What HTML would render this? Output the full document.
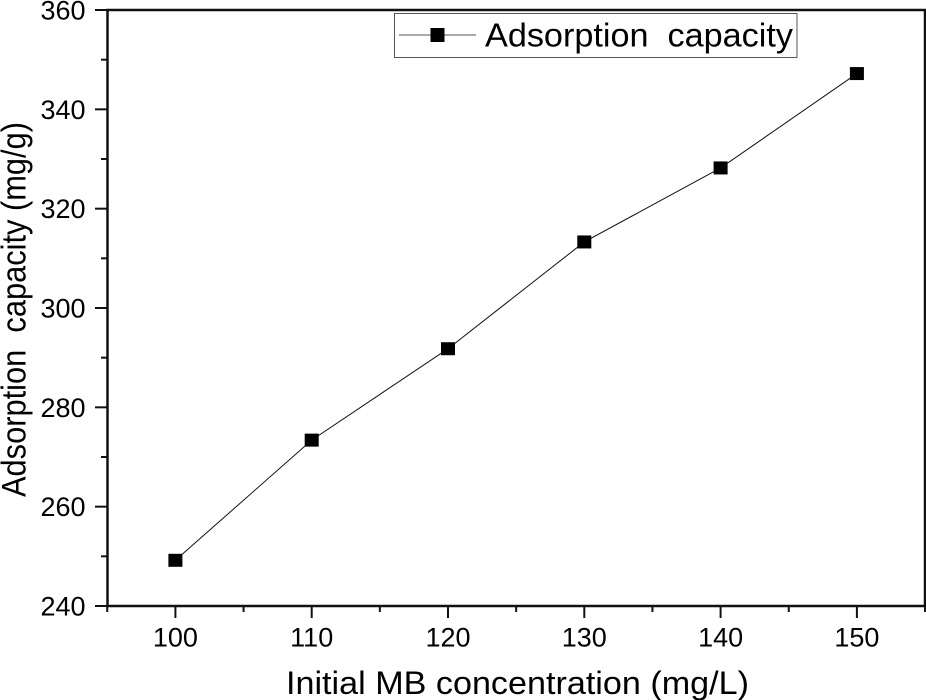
<!DOCTYPE html>
<html>
<head>
<meta charset="utf-8">
<style>
html,body{margin:0;padding:0;background:#fff;width:926px;height:700px;overflow:hidden}
svg{display:block;font-family:"Liberation Sans",sans-serif}
text{fill:#000;white-space:pre}
</style>
</head>
<body>
<svg id="chart" width="926" height="700" viewBox="0 0 926 700" xmlns="http://www.w3.org/2000/svg">
  <rect x="107.5" y="10" width="817.5" height="596" fill="#fff" stroke="#111" stroke-width="2.5"/>
  <g id="ticks"></g>
  <g id="series"></g>
  <text x="286" y="694" font-size="32.5" textLength="463" lengthAdjust="spacingAndGlyphs">Initial MB concentration (mg/L)</text>
  <text transform="translate(25.5,497) rotate(-90)" font-size="34" xml:space="preserve" textLength="375" lengthAdjust="spacingAndGlyphs">Adsorption  capacity (mg/g)</text>
  <g>
    <rect x="394.5" y="13.5" width="402.5" height="44" fill="#fff" stroke="#555" stroke-width="1"/>
    <line x1="399" y1="35" x2="476" y2="35" stroke="#777" stroke-width="1.2"/>
    <rect x="430.5" y="28" width="14" height="14" fill="#000"/>
    <text x="485" y="46.5" font-size="33.5" xml:space="preserve" textLength="308" lengthAdjust="spacingAndGlyphs">Adsorption  capacity</text>
  </g>
</svg>
<script>
const categories = [100, 110, 120, 130, 140, 150];
const adsorptionValues = [249.2, 273.4, 291.8, 313.3, 328.2, 347.2];
const xTickLabels = [100, 110, 120, 130, 140, 150];
const xMinorTicks = [95, 105, 115, 125, 135, 145, 155];
const yTickLabels = [240, 260, 280, 300, 320, 340, 360];
const yMinorTicks = [250, 270, 290, 310, 330, 350];

const NS = 'http://www.w3.org/2000/svg';
function xScale(v) { return 175.4 + (v - 100) * 13.63; }
function yScale(v) { return 606 - (v - 240) * (596 / 120); }

function make(tag, attrs, parent) {
  const el = document.createElementNS(NS, tag);
  for (const k in attrs) el.setAttribute(k, attrs[k]);
  parent.appendChild(el);
  return el;
}

const ticks = document.getElementById('ticks');
const series = document.getElementById('series');
const tickStyle = { stroke: '#111', 'stroke-width': 2 };

xTickLabels.forEach(function (v) {
  const x = xScale(v);
  const t = make('line', Object.assign({ x1: x, x2: x, y1: 606, y2: 618 }, tickStyle), ticks);
  
  
  const l = make('text', { x: x, y: 646.5, 'font-size': 27, 'text-anchor': 'middle' }, ticks);
  l.textContent = v;
  
  
});
xMinorTicks.forEach(function (v) {
  const x = xScale(v);
  const t = make('line', Object.assign({ x1: x, x2: x, y1: 606, y2: 612 }, tickStyle), ticks);
  
  
});
yTickLabels.forEach(function (v) {
  const y = yScale(v);
  const t = make('line', Object.assign({ x1: 95, x2: 107.5, y1: y, y2: y }, tickStyle), ticks);
  
  
  const l = make('text', { x: 85.5, y: y + 9.5, 'font-size': 27, 'text-anchor': 'end' }, ticks);
  l.textContent = v;
  
  
});
yMinorTicks.forEach(function (v) {
  const y = yScale(v);
  const t = make('line', Object.assign({ x1: 101, x2: 107.5, y1: y, y2: y }, tickStyle), ticks);
  
  
});

const points = categories.map(function (c, i) {
  return xScale(c) + ',' + yScale(adsorptionValues[i]);
}).join(' ');
const line = make('polyline', { points: points, fill: 'none', stroke: '#111', 'stroke-width': 1 }, series);



categories.forEach(function (c, i) {
  const m = make('rect', { x: xScale(c) - 7, y: yScale(adsorptionValues[i]) - 6.5, width: 14, height: 13, fill: '#000' }, series);
  
  
});
</script>
</body>
</html>
